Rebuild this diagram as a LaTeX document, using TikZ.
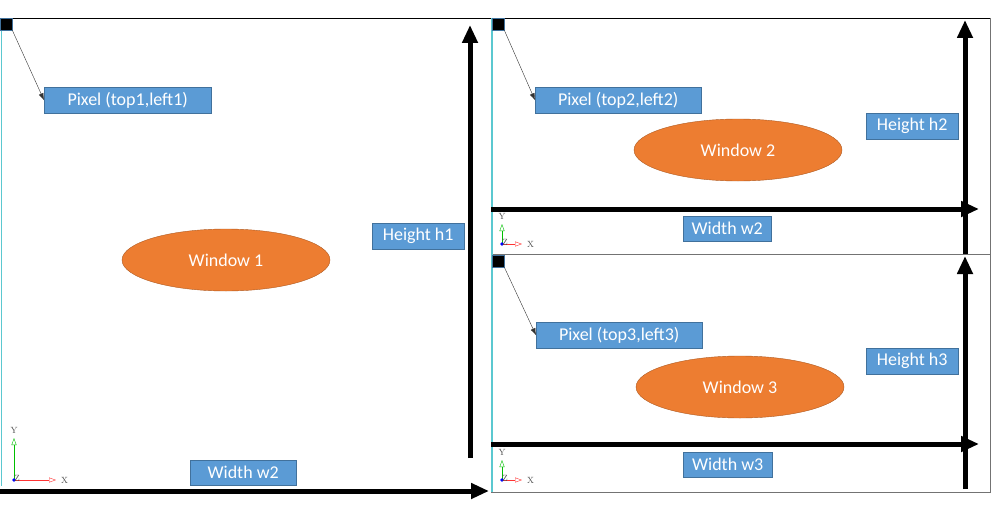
\documentclass[tikz,border=0pt]{standalone}
\usepackage{fontspec}
\setsansfont{Carlito}
\usetikzlibrary{arrows.meta,positioning,shapes.geometric}
\definecolor{boxblue}{HTML}{5B9BD5}
\definecolor{boxedge}{HTML}{41719C}
\definecolor{winorange}{HTML}{ED7D31}
\definecolor{winedge}{HTML}{AE5A21}
\definecolor{framecyan}{HTML}{5BC8D0}

\begin{document}
\begin{tikzpicture}[>=Latex,x=1pt,y=-1pt]
  \tikzstyle{lbl}=[draw=boxedge,fill=boxblue,text=white,font=\sffamily\fontsize{18}{20}\selectfont,inner sep=0pt,anchor=north west]
  \tikzstyle{win}=[ellipse,draw=winedge,fill=winorange,text=white,font=\sffamily\fontsize{18}{20}\selectfont,inner sep=0pt,minimum width=208pt,minimum height=62pt]
  \tikzstyle{pix}=[draw=boxedge,fill=black,minimum size=12pt,inner sep=0pt,anchor=north west]
  \tikzstyle{dim}=[line width=5pt,-{Triangle[length=18pt,width=15pt]}]
  \tikzstyle{ptr}=[thin,black!80,-{Latex[length=7pt,width=5pt]}]
  \tikzstyle{axlbl}=[font=\rmfamily\fontsize{9}{10}\selectfont,text=black!70,inner sep=1pt]
  \useasboundingbox (0,0) rectangle (1000,511);
  % frames
  \draw[black] (0,18) -- (990,18);
  \draw[black!55] (990,18) -- (990,492) -- (491,492);
  \draw[black!55] (491,254) -- (990,254);
  \draw[framecyan,line width=1.2pt] (1.5,18) -- (1.5,486);
  \draw[framecyan,line width=1.2pt] (492,18) -- (492,492);
  % window 1
  \node[pix] (sq1) at (0,18) {};
  \node[lbl,minimum width=167pt,minimum height=26pt] (px1) at (44,87) {Pixel (top1,left1)};
  \draw[ptr] (sq1.south east) -- (px1.west);
  \node[win] (w1) at (226,260) {Window 1};
  \node[lbl,minimum width=92pt,minimum height=26pt] (hh1) at (372,223) {Height h1};
  \node[lbl,minimum width=106pt,minimum height=25pt] (ww1) at (190,460) {Width w2};
  \coordinate (h1a) at (470,458);
  \coordinate (h1b) at (470,25);
  \coordinate (b1a) at (0,491);
  \coordinate (b1b) at (489,491);
  \draw[dim] (h1a) -- (h1b);
  \draw[dim] (b1a) -- (b1b);
  % window 2
  \node[pix] (sq2) at (492,18) {};
  \node[lbl,minimum width=166pt,minimum height=26pt] (px2) at (535,87) {Pixel (top2,left2)};
  \draw[ptr] (sq2.south east) -- (px2.west);
  \node[win] (w2) at (738,150) {Window 2};
  \node[lbl,minimum width=92pt,minimum height=26pt] (hh2) at (866,113) {Height h2};
  \node[lbl,minimum width=88pt,minimum height=25pt] (ww2) at (683,216) {Width w2};
  \coordinate (h2a) at (965,254);
  \coordinate (h2b) at (965,20);
  \coordinate (b2a) at (491,209);
  \coordinate (b2b) at (979,209);
  \draw[dim] (b2a) -- (b2b);
  \draw[dim] (h2a) -- (h2b);
  % window 3
  \node[pix] (sq3) at (492,255) {};
  \node[lbl,minimum width=166pt,minimum height=26pt] (px3) at (536,322) {Pixel (top3,left3)};
  \draw[ptr] (sq3.south east) -- (px3.west);
  \node[win] (w3) at (740,387) {Window 3};
  \node[lbl,minimum width=92pt,minimum height=26pt] (hh3) at (866,348) {Height h3};
  \node[lbl,minimum width=89pt,minimum height=25pt] (ww3) at (683,452) {Width w3};
  \coordinate (h3a) at (965,489);
  \coordinate (h3b) at (965,256);
  \coordinate (b3a) at (491,444);
  \coordinate (b3b) at (979,444);
  \draw[dim] (b3a) -- (b3b);
  \draw[dim] (h3a) -- (h3b);
  % axis triads
  \foreach \n/\ox/\oy/\s in {a/14/480/42, b/502/244/20, c/502/480/20} {
    \coordinate (o\n) at (\ox,\oy);
    \coordinate (y\n) at (\ox,\oy-\s);
    \coordinate (x\n) at (\ox+\s,\oy);
    \draw[green!75!black,-{Triangle[open,length=7pt,width=5pt]}] (o\n) -- (y\n);
    \draw[red!80,-{Triangle[open,length=7pt,width=5pt]}] (o\n) -- (x\n);
    \fill[blue] (o\n) circle (1.8pt);
    \node[axlbl,above=3pt of y\n] (ly\n) {Y};
    \node[axlbl,right=4pt of x\n] (lx\n) {X};
    \node[axlbl,above right=-3pt and -1pt of o\n] (lz\n) {Z};
  }
\end{tikzpicture}
\end{document}
